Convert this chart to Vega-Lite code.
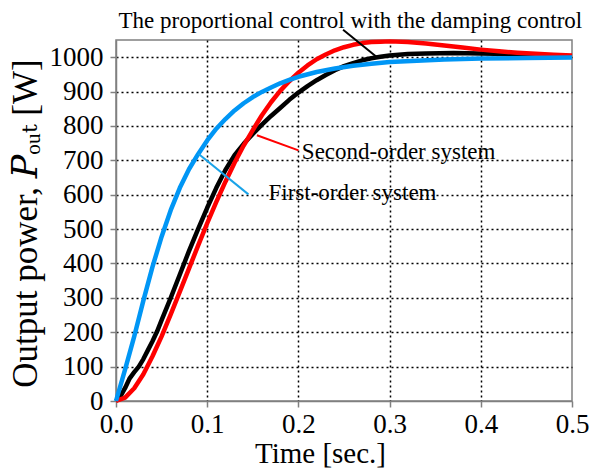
{
  "$schema": "https://vega.github.io/schema/vega-lite/v6.json",
  "width": 456,
  "height": 361,
  "autosize": {"type": "none"},
  "padding": {"left": 116, "top": 40, "right": 31, "bottom": 70},
  "config": {
    "font": "Liberation Serif",
    "view": {"stroke": "#808080", "strokeWidth": 1.5},
    "style": {
      "guide-label": {"font": "Liberation Serif", "fontWeight": "normal"},
      "guide-title": {"font": "Liberation Serif", "fontWeight": "normal"}
    },
    "axis": {
      "labelFont": "Liberation Serif",
      "titleFont": "Liberation Serif",
      "labelColor": "black",
      "titleColor": "black",
      "titleFontWeight": "normal",
      "domainColor": "#808080",
      "domainWidth": 1.5,
      "tickColor": "#808080",
      "tickWidth": 1.5,
      "tickSize": 6,
      "gridColor": "black",
      "gridDash": [2, 3],
      "gridWidth": 1.5,
      "labelOverlap": false,
      "labelFlush": false
    }
  },
  "datasets": {
    "black": [
      {"t": 0, "p": 0}, {"t": 0.005, "p": 14}, {"t": 0.01, "p": 38}, {"t": 0.015, "p": 66},
      {"t": 0.02, "p": 84}, {"t": 0.025, "p": 100}, {"t": 0.03, "p": 122}, {"t": 0.035, "p": 148},
      {"t": 0.04, "p": 174}, {"t": 0.045, "p": 202}, {"t": 0.05, "p": 235}, {"t": 0.06, "p": 300},
      {"t": 0.07, "p": 368}, {"t": 0.08, "p": 436}, {"t": 0.09, "p": 500}, {"t": 0.1, "p": 562},
      {"t": 0.11, "p": 620}, {"t": 0.12, "p": 672}, {"t": 0.13, "p": 715}, {"t": 0.14, "p": 748},
      {"t": 0.15, "p": 777}, {"t": 0.16, "p": 804}, {"t": 0.17, "p": 829}, {"t": 0.18, "p": 852},
      {"t": 0.19, "p": 876}, {"t": 0.2, "p": 897}, {"t": 0.21, "p": 916}, {"t": 0.22, "p": 933},
      {"t": 0.23, "p": 948}, {"t": 0.24, "p": 962}, {"t": 0.25, "p": 974}, {"t": 0.26, "p": 983},
      {"t": 0.27, "p": 991}, {"t": 0.28, "p": 997}, {"t": 0.29, "p": 1001}, {"t": 0.3, "p": 1005},
      {"t": 0.32, "p": 1009}, {"t": 0.34, "p": 1011}, {"t": 0.37, "p": 1012}, {"t": 0.4, "p": 1011},
      {"t": 0.43, "p": 1009}, {"t": 0.46, "p": 1006}, {"t": 0.5, "p": 1003}
    ],
    "red": [
      {"t": 0, "p": 0}, {"t": 0.01, "p": 10}, {"t": 0.02, "p": 37}, {"t": 0.03, "p": 78},
      {"t": 0.04, "p": 130}, {"t": 0.05, "p": 188}, {"t": 0.06, "p": 252}, {"t": 0.07, "p": 318},
      {"t": 0.08, "p": 385}, {"t": 0.09, "p": 452}, {"t": 0.1, "p": 517}, {"t": 0.11, "p": 579},
      {"t": 0.12, "p": 638}, {"t": 0.13, "p": 693}, {"t": 0.14, "p": 743}, {"t": 0.15, "p": 788},
      {"t": 0.16, "p": 831}, {"t": 0.17, "p": 869}, {"t": 0.18, "p": 902}, {"t": 0.19, "p": 930},
      {"t": 0.2, "p": 955}, {"t": 0.21, "p": 976}, {"t": 0.22, "p": 994}, {"t": 0.23, "p": 1008},
      {"t": 0.24, "p": 1020}, {"t": 0.25, "p": 1029}, {"t": 0.26, "p": 1036}, {"t": 0.27, "p": 1041},
      {"t": 0.28, "p": 1044}, {"t": 0.29, "p": 1045}, {"t": 0.3, "p": 1046}, {"t": 0.32, "p": 1044},
      {"t": 0.34, "p": 1040}, {"t": 0.36, "p": 1034}, {"t": 0.38, "p": 1028}, {"t": 0.4, "p": 1022},
      {"t": 0.42, "p": 1017}, {"t": 0.44, "p": 1013}, {"t": 0.46, "p": 1010}, {"t": 0.48, "p": 1007},
      {"t": 0.5, "p": 1005}
    ],
    "blue": [
      {"t": 0, "p": 0}, {"t": 0.01, "p": 92}, {"t": 0.02, "p": 188}, {"t": 0.03, "p": 292},
      {"t": 0.04, "p": 390}, {"t": 0.05, "p": 478}, {"t": 0.06, "p": 555},
      {"t": 0.07, "p": 620}, {"t": 0.08, "p": 674}, {"t": 0.09, "p": 718}, {"t": 0.1, "p": 758},
      {"t": 0.11, "p": 792}, {"t": 0.12, "p": 820}, {"t": 0.13, "p": 845}, {"t": 0.14, "p": 866},
      {"t": 0.15, "p": 884}, {"t": 0.16, "p": 899}, {"t": 0.17, "p": 912}, {"t": 0.18, "p": 924},
      {"t": 0.19, "p": 934}, {"t": 0.2, "p": 943}, {"t": 0.22, "p": 957}, {"t": 0.24, "p": 967},
      {"t": 0.26, "p": 975}, {"t": 0.28, "p": 981}, {"t": 0.3, "p": 986}, {"t": 0.33, "p": 990},
      {"t": 0.36, "p": 993}, {"t": 0.4, "p": 996}, {"t": 0.45, "p": 998}, {"t": 0.5, "p": 999}
    ],
    "leaders": [
      {"t": 0.249, "p": 1080, "t2": 0.2862, "p2": 1000, "who": "black"},
      {"t": 0.1545, "p": 773, "t2": 0.2001, "p2": 729, "who": "red"},
      {"t": 0.0903, "p": 719, "t2": 0.1452, "p2": 601, "who": "blue"}
    ],
    "topLabel": [
      {"t": 0.257, "p": 1086, "label": "The proportional control with the damping control"}
    ],
    "sideLabels": [
      {"t": 0.2038, "p": 705, "label": "Second-order system"},
      {"t": 0.1672, "p": 586, "label": "First-order system"}
    ]
  },
  "encoding": {
    "x": {
      "field": "t", "type": "quantitative",
      "scale": {"domain": [0, 0.5], "nice": false, "zero": false},
      "axis": {
        "values": [0, 0.1, 0.2, 0.3, 0.4, 0.5],
        "format": ".1f",
        "title": "Time [sec.]",
        "titleFont": "Liberation Serif",
        "labelFont": "Liberation Serif",
        "labelFontWeight": "normal",
        "titleFontSize": 29,
        "labelFontSize": 27,
        "labelPadding": 4,
        "titleX": 204,
        "titleY": 61,
        "titleAlign": "center",
        "titleBaseline": "alphabetic",
        "gridOpacity": {"condition": {"test": "datum.value <= 0 || datum.value >= 0.5", "value": 0}, "value": 1}
      }
    },
    "y": {
      "field": "p", "type": "quantitative",
      "scale": {"domain": [0, 1050], "nice": false, "zero": false},
      "axis": {
        "values": [0, 100, 200, 300, 400, 500, 600, 700, 800, 900, 1000],
        "format": "d",
        "title": "Output power, 𝑃ₒᵤₜ [W]",
        "titleFont": "Liberation Serif, DejaVu Serif",
        "labelFont": "Liberation Serif",
        "labelFontWeight": "normal",
        "titleFontSize": 35,
        "labelFontSize": 27,
        "labelPadding": 7,
        "titleX": -80,
        "titleY": 183,
        "titleAlign": "center",
        "titleBaseline": "alphabetic",
        "gridOpacity": {"condition": {"test": "datum.value <= 0", "value": 0}, "value": 1}
      }
    }
  },
  "layer": [
    {
      "data": {"name": "black"},
      "mark": {"type": "line", "color": "black", "strokeWidth": 4.5, "strokeJoin": "round"}
    },
    {
      "data": {"name": "red"},
      "mark": {"type": "line", "color": "#ff0000", "strokeWidth": 4.5, "strokeJoin": "round"}
    },
    {
      "data": {"name": "blue"},
      "mark": {"type": "line", "color": "#0096f5", "strokeWidth": 4.5, "strokeJoin": "round"}
    },
    {
      "data": {"name": "leaders"},
      "mark": {"type": "rule", "strokeWidth": 2},
      "encoding": {
        "x2": {"field": "t2"},
        "y2": {"field": "p2"},
        "color": {
          "field": "who", "type": "nominal",
          "scale": {"domain": ["black", "red", "blue"], "range": ["black", "#ff0000", "#1aa3e8"]},
          "legend": null
        }
      }
    },
    {
      "data": {"name": "topLabel"},
      "mark": {"type": "text", "font": "Liberation Serif", "fontSize": 23, "align": "center", "baseline": "alphabetic", "color": "black"},
      "encoding": {
        "text": {"field": "label"}
      }
    },
    {
      "data": {"name": "sideLabels"},
      "mark": {"type": "text", "font": "Liberation Serif", "fontSize": 23, "align": "left", "baseline": "alphabetic", "color": "black"},
      "encoding": {
        "text": {"field": "label"}
      }
    }
  ]
}
